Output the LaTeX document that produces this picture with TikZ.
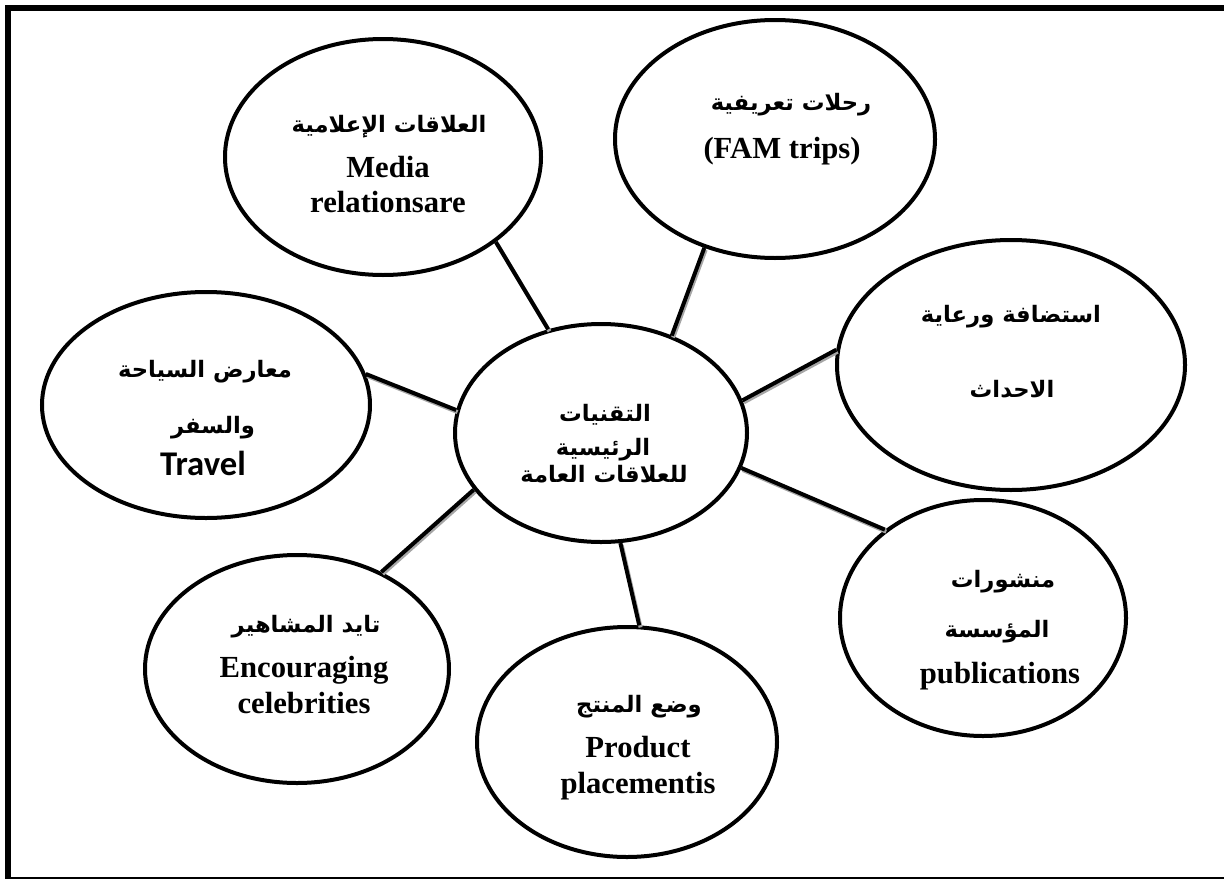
\documentclass[tikz,border=0pt]{standalone}
\usepackage{fontspec}
\setmainfont{Liberation Serif}
\newfontfamily\arabicfont[Script=Arabic]{DejaVu Sans}
\newfontfamily\calibrilike{Carlito}
\TeXXeTstate=1
\newcommand\artxt[1]{{\arabicfont\bfseries\beginR #1\endR}}
\usetikzlibrary{shapes.geometric}

\begin{document}
\begin{tikzpicture}[x=0.75pt,y=-0.75pt,
  bubble/.style 2 args={ellipse, draw=black, line width=3pt, inner sep=0pt,
    minimum width=#1*1.5pt, minimum height=#2*1.5pt},
  link/.style={line width=3pt, draw=black,
    preaction={draw=black!35, line width=3pt, transform canvas={shift={(1pt,-1.5pt)}}}},
  en/.style={font=\bfseries\fontsize{23}{26}\selectfont, anchor=base, inner sep=0pt},
  ar/.style={font=\fontsize{17}{20}\selectfont, anchor=base, inner sep=0pt},
  latin/.style={font=\calibrilike\bfseries\fontsize{26}{30}\selectfont, anchor=base, inner sep=0pt}]

\useasboundingbox (0,0) rectangle (1224,878);
% outer frame, running off the right and bottom edges of the page
\draw[line width=4.5pt] (8,7.5) rectangle (1230,880);

% bubbles
\node[bubble={158}{118}] (media)   at (383,157) {};
\node[bubble={160}{119}] (fam)     at (775,139) {};
\node[bubble={174}{125}] (host)    at (1011,365) {};
\node[bubble={146}{109}] (core)    at (601,433) {};
\node[bubble={164}{113}] (travel)  at (206,405) {};
\node[bubble={152}{114}] (celeb)   at (297,669) {};
\node[bubble={150}{115}] (product) at (627,742) {};
\node[bubble={143}{118}] (pub)     at (983,618) {};

% connectors
\draw[link] (media.-37.4)   -- (core.117.8);
\draw[link] (fam.237.2)     -- (core.54.2);
\draw[link] (host.175.7)    -- (core.13.5);
\draw[link] (travel.11.5)   -- (core.171);
\draw[link] (celeb.49.3)    -- (core.204.7);
\draw[link] (product.84.1)  -- (core.-80);
\draw[link] (pub.138.9)     -- (core.-14.4);

% labels
\node[ar] (m1) at (389,132) {\artxt{العلاقات الإعلامية}};
\node[en] (m2) at (388,177) {Media};
\node[en] (m3) at (388,212) {relationsare};

\node[ar] (f1) at (791,110) {\artxt{رحلات تعريفية}};
\node[en] (f2) at (782,158) {(FAM trips)};

\node[ar] (h1) at (1011,322) {\artxt{استضافة ورعاية}};
\node[ar] (h2) at (1012,397) {\artxt{الاحداث}};

\node[ar] (c1) at (605,421) {\artxt{التقنيات}};
\node[ar] (c2) at (603,455) {\artxt{الرئيسية}};
\node[ar] (c3) at (604,482) {\artxt{للعلاقات العامة}};

\node[ar] (t1) at (205,377) {\artxt{معارض السياحة}};
\node[ar] (t2) at (213,433) {\artxt{والسفر}};
\node[latin] (t3) at (203,475) {Travel};

\node[ar] (e1) at (306,632) {\artxt{تايد المشاهير}};
\node[en] (e2) at (304,677) {Encouraging};
\node[en] (e3) at (304,713) {celebrities};

\node[ar] (p1) at (639,712) {\artxt{وضع المنتج}};
\node[en] (p2) at (638,757) {Product};
\node[en] (p3) at (638,793) {placementis};

\node[ar] (o1) at (1003,587) {\artxt{منشورات}};
\node[ar] (o2) at (997,637) {\artxt{المؤسسة}};
\node[en] (o3) at (1000,683) {publications};
\end{tikzpicture}
\end{document}
